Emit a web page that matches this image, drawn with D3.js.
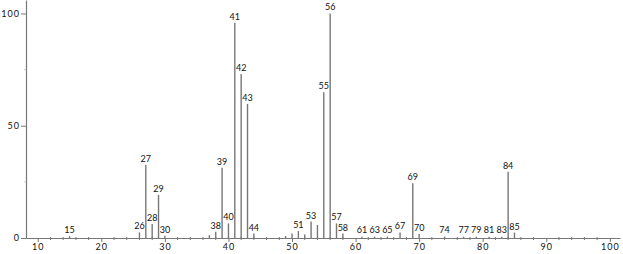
<!DOCTYPE html>
<html>
<head>
<meta charset="utf-8">
<script src="https://cdn.jsdelivr.net/npm/d3@7"></script>
<style>
  body { margin: 0; background: #fff; }
  text { font-family: Lato, "DejaVu Sans", sans-serif; fill: #111; }
</style>
</head>
<body>
<div id="chart"></div>
<script>
// m/z values and relative intensities
const mz = [15, 26, 27, 28, 29, 30, 37, 38, 39, 40, 41, 42, 43, 44, 49, 50, 51, 52, 53, 54,
            55, 56, 57, 58, 61, 63, 65, 67, 69, 70, 74, 77, 79, 81, 83, 84, 85];
const intensity = [0.8, 2.5, 32.5, 6.2, 19.2, 1, 1.3, 2.8, 31.3, 6.5, 95.9, 73, 59.7, 2, 0.9, 2, 3.1, 1.6, 7.3, 5.8,
                   64.9, 100, 6.5, 2, 0.6, 0.6, 0.6, 2.5, 24.4, 1.8, 0.6, 0.6, 0.6, 0.6, 0.6, 29.5, 2.4];
const labelled = [15, 26, 27, 28, 29, 30, 38, 39, 40, 41, 42, 43, 44, 51, 53, 55, 56, 57, 58,
                  61, 63, 65, 67, 69, 70, 74, 77, 79, 81, 83, 84, 85];
const xTicks = [10, 20, 30, 40, 50, 60, 70, 80, 90, 100];
const yTicks = [0, 50, 100];

const width = 623, height = 254;
const peaks = mz.map((m, i) => ({ mz: m, v: intensity[i] }));

const svg = d3.select("#chart").append("svg")
    .attr("width", width)
    .attr("height", height);

const x = d3.scaleLinear()
    .domain([8.15, 101.6])
    .range([26, 620]);

const y = d3.scaleLinear()
    .domain([0, 106])
    .range([238, 0]);

// minor ticks on x (every 2)
const minor = d3.range(12, 101, 2).filter(d => d % 10 !== 0);
svg.append("g")
    .selectAll("line")
    .data(minor)
    .enter().append("line")
    .attr("x1", d => x(d)).attr("x2", d => x(d))
    .attr("y1", y(0) - 1).attr("y2", y(0) + 2)
    .attr("stroke", "#777")
    .attr("stroke-width", 1);

// X axis
const xAxis = svg.append("g")
    .attr("transform", "translate(0," + y(0) + ")")
    .call(d3.axisBottom(x).tickValues(xTicks).tickSize(4).tickSizeOuter(0));
xAxis.select(".domain").attr("stroke", "#777").attr("stroke-width", 1.2);
xAxis.selectAll(".tick line").attr("stroke", "#777").attr("stroke-width", 1);
xAxis.selectAll(".tick text")
    .attr("y", 6)
    .style("font-size", "9px")
    .style("letter-spacing", "1px");

// Y axis
const yAxis = svg.append("g")
    .attr("transform", "translate(" + x.range()[0] + ",0)")
    .call(d3.axisLeft(y).tickValues(yTicks).tickSize(5).tickSizeOuter(0));
yAxis.select(".domain").attr("stroke", "#777").attr("stroke-width", 1.2);
yAxis.selectAll(".tick line").attr("stroke", "#777").attr("stroke-width", 1);
yAxis.selectAll(".tick text")
    .attr("x", -6)
    .style("font-size", "9px")
    .style("letter-spacing", "1px");

// faint minor y ticks
svg.append("g")
    .selectAll("line")
    .data([25, 75])
    .enter().append("line")
    .attr("x1", x.range()[0] - 2).attr("x2", x.range()[0])
    .attr("y1", d => y(d)).attr("y2", d => y(d))
    .attr("stroke", "#ccc");

// peaks
svg.append("g")
    .selectAll("line")
    .data(peaks)
    .enter().append("line")
    .attr("x1", d => x(d.mz)).attr("x2", d => x(d.mz))
    .attr("y1", y(0))
    .attr("y2", d => y(d.v))
    .attr("stroke", "#777")
    .attr("stroke-width", 1.4);

// peak labels
svg.append("g")
    .selectAll("text")
    .data(peaks.filter(d => labelled.includes(d.mz)))
    .enter().append("text")
    .attr("x", d => x(d.mz))
    .attr("y", d => Math.min(y(d.v) - 3, 233))
    .attr("text-anchor", "middle")
    .style("font-size", "9px")
    .text(d => d.mz);
</script>
</body>
</html>
